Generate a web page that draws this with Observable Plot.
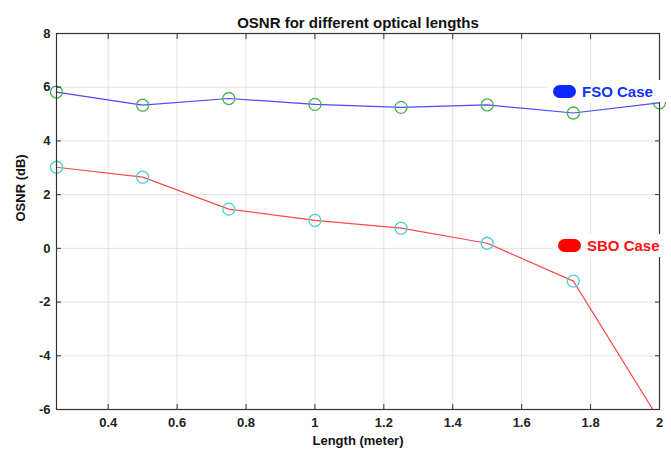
<!DOCTYPE html>
<html>
<head>
<meta charset="utf-8">
<script src="https://cdn.jsdelivr.net/npm/d3@7"></script>
<script src="https://cdn.jsdelivr.net/npm/@observablehq/plot@0.6"></script>
<style>
  body { margin: 0; background: #fff; }
  #wrap { position: relative; width: 671px; height: 453px; font-family: "Liberation Sans", Arial, sans-serif; }
  .leg { position: absolute; background: #fff; display: flex; align-items: center; font-weight: bold; font-size: 15px; }
  .pill { width: 23px; height: 13px; border-radius: 7px; margin-right: 6px; }
</style>
</head>
<body>
<div id="wrap"></div>
<script>
const lengths = [0.25, 0.5, 0.75, 1.0, 1.25, 1.5, 1.75, 2.0];
const fsoOSNR = [5.82, 5.33, 5.58, 5.36, 5.25, 5.34, 5.04, 5.42];
const sboOSNR = [3.02, 2.65, 1.46, 1.04, 0.75, 0.19, -1.22, -6.4];
const xTicks = [0.4, 0.6, 0.8, 1.0, 1.2, 1.4, 1.6, 1.8, 2.0];
const yTicks = [-6, -4, -2, 0, 2, 4, 6, 8];
const seriesNames = ["FSO Case", "SBO Case"];
const titleText = "OSNR for different optical lengths";
const xLabel = "Length (meter)";
const yLabel = "OSNR (dB)";

const fso = lengths.map((x, i) => ({x, y: fsoOSNR[i]}));
const sbo = lengths.map((x, i) => ({x, y: sboOSNR[i]}));
const fmt = d => String(+d.toFixed(1));
const blank = () => "";

const chart = Plot.plot({
  width: 671,
  height: 453,
  marginTop: 33,
  marginBottom: 44,
  marginLeft: 56,
  marginRight: 12,
  style: {fontFamily: "'Liberation Sans', Arial, sans-serif", fontSize: "13px", fontWeight: "bold", color: "#222", background: "#fff"},
  x: {domain: [0.25, 2.0]},
  y: {domain: [-6, 8]},
  marks: [
    Plot.gridX(xTicks, {stroke: "#d9d9d9", strokeOpacity: 1, strokeWidth: 0.8}),
    Plot.gridY(yTicks, {stroke: "#d9d9d9", strokeOpacity: 1, strokeWidth: 0.8}),
    Plot.line(fso, {x: "x", y: "y", stroke: "#4a4aff", strokeWidth: 1.2, clip: true}),
    Plot.line(sbo, {x: "x", y: "y", stroke: "#ff4a4a", strokeWidth: 1.2, clip: true}),
    Plot.dot(fso, {x: "x", y: "y", r: 6, stroke: "#4caf50", strokeWidth: 1.3, fill: "none"}),
    Plot.dot(sbo.filter(d => d.y >= -6), {x: "x", y: "y", r: 6, stroke: "#4fd0d0", strokeWidth: 1.3, fill: "none"}),
    Plot.frame({stroke: "#333", strokeWidth: 1.2}),
    Plot.axisX(xTicks, {anchor: "bottom", tickSize: 0, tickPadding: 8, tickFormat: fmt, label: null, fontSize: 13}),
    Plot.axisY(yTicks, {anchor: "left", tickSize: 0, tickPadding: 6, tickFormat: fmt, label: null, fontSize: 13}),
    Plot.axisX(xTicks, {anchor: "bottom", tickSize: 5, dy: -5, tickFormat: blank, label: null, stroke: "#333"}),
    Plot.axisX(xTicks, {anchor: "top", tickSize: 5, dy: 5, tickFormat: blank, label: null, stroke: "#333"}),
    Plot.axisY(yTicks, {anchor: "left", tickSize: 5, dx: 5, tickFormat: blank, label: null, stroke: "#333"}),
    Plot.axisY(yTicks, {anchor: "right", tickSize: 5, dx: -5, tickFormat: blank, label: null, stroke: "#333"}),
    Plot.text([titleText], {frameAnchor: "top", dy: -16, fontSize: 15, fontWeight: "bold", fill: "#111"}),
    Plot.text([xLabel], {frameAnchor: "bottom", dy: 35, fontSize: 13, fontWeight: "bold", fill: "#111"}),
    Plot.text([yLabel], {frameAnchor: "left", dx: -36, rotate: -90, fontSize: 13, fontWeight: "bold", fill: "#111"})
  ]
});

const wrap = document.getElementById("wrap");
wrap.appendChild(chart);

const legends = [
  {name: seriesNames[0], pill: "#0a2aff", text: "#1030ff", left: 548, top: 80, w: 115, h: 22},
  {name: seriesNames[1], pill: "#ff0000", text: "#ff1010", left: 553, top: 234, w: 108, h: 23}
];
for (const l of legends) {
  const d = document.createElement("div");
  d.className = "leg";
  d.style.left = l.left + "px";
  d.style.top = l.top + "px";
  d.style.width = l.w + "px";
  d.style.height = l.h + "px";
  d.style.color = l.text;
  d.style.paddingLeft = "5px";
  const p = document.createElement("span");
  p.className = "pill";
  p.style.background = l.pill;
  d.appendChild(p);
  d.appendChild(document.createTextNode(l.name));
  wrap.appendChild(d);
}
</script>
</body>
</html>
